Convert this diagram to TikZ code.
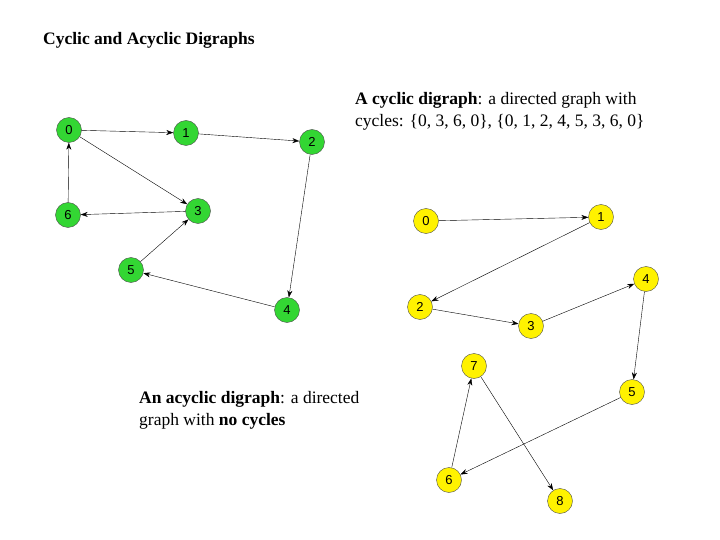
\documentclass[tikz,border=0pt]{standalone}
\usepackage{fontspec}
\usetikzlibrary{arrows.meta}
\setmainfont{Liberation Serif}
\newfontfamily\lsans{Liberation Sans}
\begin{document}
\begin{tikzpicture}[x=1pt,y=-1pt,
  gn/.style={circle,draw=black!70,fill=green!80!black!80,minimum size=25pt,inner sep=0pt,font=\lsans\fontsize{13}{15}\selectfont},
  yn/.style={circle,draw=black!70,fill=yellow,minimum size=25pt,inner sep=0pt,font=\lsans\fontsize{13}{15}\selectfont},
  ed/.style={-{Stealth[length=7pt,width=5pt]},thin,black},
  txt/.style={anchor=west,align=left,inner sep=0pt,font=\fontsize{17.5}{22}\selectfont}]
\useasboundingbox (0,0) rectangle (720,540);
\node[txt] (title) at (43,40) {\textbf{Cyclic and Acyclic Digraphs}};
\node[txt] (cyc) at (355,111) {\textbf{A cyclic digraph}: a\ directed graph with\\cycles: \{0, 3, 6, 0\}, \{0, 1, 2, 4, 5, 3, 6, 0\}};
\node[txt] (acyc) at (139,410) {\textbf{An acyclic digraph}: a\ directed\\graph with \textbf{no cycles}};
% left
\node[gn] (a0) at (69,130) {0};
\node[gn] (a1) at (186,133) {1};
\node[gn] (a2) at (312,142) {2};
\node[gn] (a3) at (198,211) {3};
\node[gn] (a6) at (68,215) {6};
\node[gn] (a5) at (131,270) {5};
\node[gn] (a4) at (287,310) {4};
\draw[ed] (a0)--(a1); \draw[ed] (a1)--(a2); \draw[ed] (a0)--(a3);
\draw[ed] (a3)--(a6); \draw[ed] (a6)--(a0); \draw[ed] (a5)--(a3);
\draw[ed] (a2)--(a4); \draw[ed] (a4)--(a5);
% right
\node[yn] (b0) at (426,221) {0};
\node[yn] (b1) at (601,217) {1};
\node[yn] (b4) at (646,279) {4};
\node[yn] (b2) at (420,307) {2};
\node[yn] (b3) at (531,326) {3};
\node[yn] (b7) at (474,366) {7};
\node[yn] (b5) at (632,392) {5};
\node[yn] (b6) at (449,480) {6};
\node[yn] (b8) at (560,501) {8};
\draw[ed] (b0)--(b1); \draw[ed] (b1)--(b2); \draw[ed] (b2)--(b3);
\draw[ed] (b3)--(b4); \draw[ed] (b4)--(b5); \draw[ed] (b5)--(b6);
\draw[ed] (b6)--(b7); \draw[ed] (b7)--(b8);
\end{tikzpicture}
\end{document}
